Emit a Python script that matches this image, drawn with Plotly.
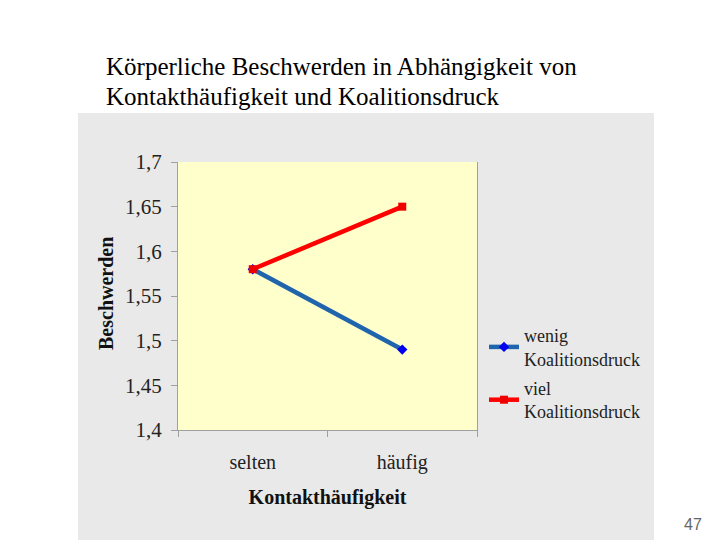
import plotly.graph_objects as go

categories = ["selten", "häufig"]
wenig = [1.58, 1.49]
viel = [1.58, 1.65]
series_names = ["wenig<br>Koalitionsdruck", "viel<br>Koalitionsdruck"]
y_ticks = [1.4, 1.45, 1.5, 1.55, 1.6, 1.65, 1.7]
y_ticktext = ["1,4", "1,45", "1,5", "1,55", "1,6", "1,65", "1,7"]
title_lines = ["Körperliche Beschwerden in Abhängigkeit von", "Kontakthäufigkeit und Koalitionsdruck"]

serif = "Liberation Serif, Times New Roman, serif"

# page has an 8px body margin; work in page pixel coordinates and shift
OFF = 8
W, H = 720 - OFF, 540 - OFF
L, R, T, B = 178 - OFF, 477 - OFF, 162 - OFF, 430 - OFF
pw, ph = R - L, B - T

def px(x):
    return (x - OFF - L) / pw

def py(y):
    return (B - (y - OFF)) / ph

fig = go.Figure()
fig.add_trace(go.Scatter(x=categories, y=wenig, name=series_names[0], mode="lines+markers",
                         legendgroup="a",
                         line=dict(color="#1f64ad", width=4.5),
                         marker=dict(symbol="diamond", size=8, color="#0000ee")))
fig.add_trace(go.Scatter(x=categories, y=viel, name=series_names[1], mode="lines+markers",
                         legendgroup="b",
                         line=dict(color="#ff0000", width=4.5),
                         marker=dict(symbol="square", size=8, color="#ee0000")))

fig.update_layout(
    width=W, height=H,
    margin=dict(l=L, r=W - R, t=T, b=H - B, autoexpand=False),
    paper_bgcolor="white",
    plot_bgcolor="#ffffcc",
    separators=",.",
    font=dict(family=serif, color="#222222", size=20),
    showlegend=True,
    legend=dict(x=px(484), y=py(317), xanchor="left", yanchor="top",
                traceorder="grouped", tracegroupgap=3,
                bgcolor="rgba(0,0,0,0)", font=dict(family=serif, size=18, color="#222222"),
                itemwidth=30),
    shapes=[
        dict(type="rect", xref="paper", yref="paper", layer="below",
             x0=px(78), x1=px(654), y0=py(548), y1=py(113),
             fillcolor="#e9e9e9", line=dict(width=0)),
        dict(type="rect", xref="paper", yref="paper", layer="below",
             x0=0, x1=1, y0=0, y1=1,
             fillcolor="#ffffcc", line=dict(width=0)),
    ],
    annotations=[
        dict(text=title_lines[0], xref="paper", yref="paper", x=px(104), y=py(67),
             xanchor="left", yanchor="middle", align="left", showarrow=False,
             font=dict(family=serif, size=25, color="black")),
        dict(text=title_lines[1], xref="paper", yref="paper", x=px(104), y=py(96),
             xanchor="left", yanchor="middle", align="left", showarrow=False,
             font=dict(family=serif, size=25, color="black")),
        dict(text="<b>Beschwerden</b>", xref="paper", yref="paper", x=px(106), y=py(294),
             xanchor="center", yanchor="middle", textangle=-90, showarrow=False,
             font=dict(family=serif, size=20, color="#111111")),
        dict(text="47", xref="paper", yref="paper", x=px(693), y=py(524),
             xanchor="center", yanchor="middle", showarrow=False,
             font=dict(family="Liberation Sans, Arial, sans-serif", size=16, color="#666666")),
    ],
)
fig.update_xaxes(type="category", range=[-0.5, 1.5], showline=True, linecolor="#a0a0a0",
                 linewidth=1, mirror=False, ticks="outside", tickson="boundaries", ticklen=6,
                 tickcolor="#a0a0a0", showgrid=False, zeroline=False,
                 ticklabelstandoff=14, tickfont=dict(size=20, color="#222222"),
                 title=dict(text="<b>Kontakthäufigkeit</b>", standoff=16,
                            font=dict(family=serif, size=20, color="#111111")))
fig.update_yaxes(range=[1.4, 1.7], tickvals=y_ticks, ticktext=y_ticktext, showline=True,
                 linecolor="#a0a0a0", linewidth=1, mirror=True, ticks="outside", ticklen=6,
                 tickcolor="#a0a0a0", showgrid=False, zeroline=False,
                 ticklabelstandoff=5, tickfont=dict(size=21, color="#222222"))

fig.write_html("out.html")
